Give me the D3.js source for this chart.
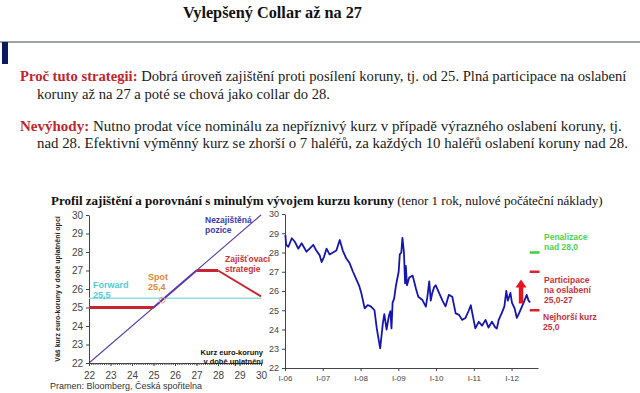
<!DOCTYPE html>
<html>
<head>
<meta charset="utf-8">
<script src="https://cdn.jsdelivr.net/npm/d3@7/dist/d3.min.js"></script>
<style>
body{margin:0;background:#fff;}
</style>
</head>
<body>
<div id="chart"></div>
<script>
// ---------- payoff profile (left chart) ----------
var spotAtExpiry=[22,25,27,28,30];
var hedgedRate=[25,25,27,27,25.6];
var unhedgedX=[22,30];
var unhedgedY=[22,30];
var forwardRate=25.5;
var spotRate=25.4;
var rateTicks=[22,23,24,25,26,27,28,29,30];

// ---------- EUR/CZK history (right chart) ----------
var fxTime=[2006.01,2006.03,2006.09,2006.18,2006.26,2006.35,2006.44,2006.57,2006.66,2006.75,2006.83,2006.92,2006.97,
 2007.03,2007.10,2007.18,2007.27,2007.36,2007.45,2007.53,2007.62,2007.71,2007.80,2007.89,2007.97,
 2008.02,2008.11,2008.19,2008.28,2008.37,2008.43,2008.52,2008.59,2008.63,2008.69,2008.75,2008.79,2008.82,2008.85,2008.89,2008.94,
 2009.01,2009.04,2009.08,2009.11,2009.15,2009.18,2009.20,2009.23,2009.29,2009.38,2009.42,2009.47,2009.53,2009.64,2009.73,2009.77,2009.82,2009.86,2009.90,2009.95,2009.99,
 2010.08,2010.17,2010.25,2010.34,2010.43,2010.52,2010.61,2010.69,2010.78,2010.87,2010.92,2010.96,
 2011.04,2011.13,2011.22,2011.31,2011.39,2011.48,2011.57,2011.61,2011.66,2011.74,2011.81,2011.86,2011.90,2011.97,
 2012.01,2012.08,2012.14,2012.20,2012.32,2012.40,2012.45,2012.49];
var fxValue=[28.9,28.4,28.3,28.74,28.56,28.2,28.48,28.04,28.22,28.4,28.1,27.85,27.5,
 27.76,28.2,27.9,28.0,28.1,28.65,28.1,27.7,27.45,27.0,26.6,26.24,
 25.9,25.1,25.27,25.19,25.0,24.06,23.02,24.3,24.8,24.0,24.7,24.95,24.06,25.4,25.6,26.3,
 27.0,27.9,28.0,28.76,28.0,26.4,27.3,26.3,26.7,26.8,26.5,26.1,25.7,25.53,25.19,25.7,26.5,25.5,25.9,26.2,26.3,
 25.9,25.5,25.2,25.8,25.7,24.84,24.76,24.5,24.6,25.0,25.26,24.85,
 24.06,24.4,24.2,24.5,24.1,24.4,24.1,24.05,24.5,24.85,25.2,26.0,25.5,25.9,
 25.4,25.1,24.6,24.85,25.4,25.8,25.5,25.4];
var yearTicks=[2006,2007,2008,2009,2010,2011,2012];
var yearLabels=['I-06','I-07','I-08','I-09','I-10','I-11','I-12'];
var penaltyLevel=28, participationLevel=27, worstLevel=25;

var W=640,H=393;
var svg=d3.select('#chart').append('svg').attr('width',W).attr('height',H)
  .style('font-family','"Liberation Sans", Arial, sans-serif');

// fit the width of a text element by changing its font size
function fit(t,w){
  var fs=parseFloat(t.attr('font-size'));
  var len=t.node().getComputedTextLength();
  t.attr('font-size',(fs*w/len).toFixed(2));
}
var serif='"Liberation Serif", "Times New Roman", serif';

//-------------------------- header --------------------------
var tt=svg.append('text').attr('x',183).attr('y',18).attr('font-family',serif)
  .attr('font-weight','bold').attr('font-size',16).attr('fill','#111')
  .text('Vylepšený Collar až na 27');
fit(tt,179);

svg.append('line').attr('x1',0).attr('x2',640).attr('y1',42).attr('y2',42)
  .attr('stroke','#9ea3a3').attr('stroke-width',2);
svg.append('rect').attr('x',2).attr('y',42).attr('width',6).attr('height',22).attr('fill','#0b1b5c');

function para(x,y,w,lead,rest){
  var t=svg.append('text').attr('x',x).attr('y',y).attr('font-family',serif)
    .attr('font-size',15).attr('fill','#1a1a1a');
  if(lead) t.append('tspan').attr('font-weight','bold').attr('fill','#c0262e').text(lead);
  t.append('tspan').text(rest);
  fit(t,w);
  return t;
}
para(20,81,607,'Proč tuto strategii:',' Dobrá úroveň zajištění proti posílení koruny, tj. od 25. Plná participace na oslabení');
var l2=para(37,99,293,null,'koruny až na 27 a poté se chová jako collar do 28.');
para(20,131,602,'Nevýhody:',' Nutno prodat více nominálu za nepříznivý kurz v případě výrazného oslabení koruny, tj.');
para(37,148,591,null,'nad 28. Efektivní výměnný kurz se zhorší o 7 haléřů, za každých 10 haléřů oslabení koruny nad 28.');

var st=svg.append('text').attr('x',51).attr('y',205).attr('font-family',serif)
  .attr('font-size',13).attr('fill','#111');
st.append('tspan').attr('font-weight','bold').text('Profil zajištění a porovnání s minulým vývojem kurzu koruny');
st.append('tspan').text(' (tenor 1 rok, nulové počáteční náklady)');
fit(st,552);

//-------------------------- left chart --------------------------
var xL=d3.scaleLinear().domain([22,30]).range([89,261]);
var yL=d3.scaleLinear().domain([22,30]).range([363,215]);
var gL=svg.append('g');

function styleAxis(g,fs){
  g.selectAll('path,line').attr('stroke','#444');
  g.selectAll('text').attr('fill','#444').attr('font-size',fs)
    .attr('font-family','"Liberation Sans", Arial, sans-serif');
}
var ayL=gL.append('g').attr('transform','translate('+xL(22)+',0)')
  .call(d3.axisLeft(yL).tickValues(rateTicks).tickSize(3).tickSizeOuter(0).tickPadding(3));
styleAxis(ayL,10);
var axL2=gL.append('g').attr('transform','translate(0,'+yL(22)+')')
  .call(d3.axisBottom(xL).tickValues(d3.range(22,30.01,0.1)).tickFormat('').tickSize(2).tickSizeOuter(0));
axL2.selectAll('line').attr('stroke','#555');
axL2.select('path').attr('stroke','#444');
var axL=gL.append('g').attr('transform','translate(0,'+yL(22)+')')
  .call(d3.axisBottom(xL).tickValues(rateTicks).tickSize(3).tickSizeOuter(0).tickPadding(6));
styleAxis(axL,10);

gL.append('text').attr('transform','translate(60,'+yL(26)+') rotate(-90)')
  .attr('text-anchor','middle').attr('font-size',7).attr('font-weight','bold').attr('fill','#222')
  .text('Váš kurz euro-koruny v době uplatnění opcí');

// forward
gL.append('line').attr('x1',xL(22)).attr('x2',xL(30)).attr('y1',yL(forwardRate)).attr('y2',yL(forwardRate))
  .attr('stroke','#8fe0e3').attr('stroke-width',1.5);

// hedged strategy
var line=d3.line().x(function(d){return xL(d[0]);}).y(function(d){return yL(d[1]);});
for(var i=0;i<spotAtExpiry.length-1;i++){
  var seg=[[spotAtExpiry[i],hedgedRate[i]],[spotAtExpiry[i+1],hedgedRate[i+1]]];
  var onDiag=hedgedRate[i]==spotAtExpiry[i]&&hedgedRate[i+1]==spotAtExpiry[i+1];
  var flat=hedgedRate[i]==hedgedRate[i+1];
  gL.append('path').attr('d',line(seg)).attr('fill','none')
    .attr('stroke',onDiag?'#6a2fa0':'#c8262e').attr('stroke-width',flat?3:2);
}
// unhedged
gL.append('path').attr('d',line(d3.zip(unhedgedX,unhedgedY))).attr('fill','none')
  .attr('stroke','#5a3cb0').attr('stroke-width',1.1);
gL.append('circle').attr('cx',xL(spotRate)).attr('cy',yL(spotRate)).attr('r',3)
  .attr('fill','none').attr('stroke','#e7a08a').attr('stroke-width',1);

function label(g,x,y,lines,color,anchor,fs){
  var t=g.append('text').attr('x',x).attr('y',y).attr('fill',color).attr('font-size',fs||8.5)
    .attr('font-weight','bold').attr('text-anchor',anchor||'start');
  lines.forEach(function(s,k){t.append('tspan').attr('x',x).attr('dy',k?(fs||8.5)*1.15:0).text(s);});
  return t;
}
label(gL,205,223,['Nezajištěná','pozice'],'#3b3bb0');
label(gL,225,262,['Zajišťovací','strategie'],'#c8323a');
label(gL,93,288,['Forward','25,5'],'#52cdd6',null,9);
label(gL,148,280,['Spot','25,4'],'#e0853a',null,9);
label(gL,263,355,['Kurz euro-koruny','v době uplatnění'],'#111','end',7.5);

svg.append('text').attr('x',50).attr('y',389).attr('font-size',9).attr('fill','#333')
  .text('Pramen: Bloomberg, Česká spořitelna');

//-------------------------- right chart --------------------------
var xR=d3.scaleLinear().domain([2006,2012.7]).range([285,538]);
var yR=d3.scaleLinear().domain([22,30]).range([368,214]);
var gR=svg.append('g');
var ayR=gR.append('g').attr('transform','translate('+xR(2006)+',0)')
  .call(d3.axisLeft(yR).tickValues(rateTicks).tickSize(3).tickSizeOuter(0).tickPadding(3));
styleAxis(ayR,9);
var axR=gR.append('g').attr('transform','translate(0,'+yR(22)+')')
  .call(d3.axisBottom(xR).tickValues(yearTicks).tickFormat(function(d,i){return yearLabels[i];})
  .tickSize(3).tickSizeOuter(0).tickPadding(4));
styleAxis(axR,8);

var lineR=d3.line().x(function(d){return xR(d[0]);}).y(function(d){return yR(d[1]);});
gR.append('path').attr('d',lineR(d3.zip(fxTime,fxValue))).attr('fill','none')
  .attr('stroke','#1515b0').attr('stroke-width',1.8).attr('stroke-linejoin','round');

// levels
function level(v,c){
  gR.append('line').attr('x1',xR(2012.48)).attr('x2',xR(2012.74)).attr('y1',yR(v)).attr('y2',yR(v))
    .attr('stroke',c).attr('stroke-width',2.5);
}
level(penaltyLevel,'#3ccf3c');
level(participationLevel,'#d8262e');
level(worstLevel,'#d8262e');

// arrow
var ax=xR(2012.25),yb=yR(25.35),yt=yR(26.6);
gR.append('path').attr('d','M'+(ax-2.2)+','+yb+'V'+(yt+8)+'H'+(ax-5.5)+'L'+ax+','+yt+'L'+(ax+5.5)+','+(yt+8)+'H'+(ax+2.2)+'V'+yb+'Z')
  .attr('fill','#e8141c');

label(gR,544,240,['Penalizace','nad 28,0'],'#4fd24f');
label(gR,544,283,['Participace','na oslabení','25,0-27'],'#c8323a');
label(gR,543,320,['Nejhorší kurz','25,0'],'#c8323a');
</script>
</body>
</html>
